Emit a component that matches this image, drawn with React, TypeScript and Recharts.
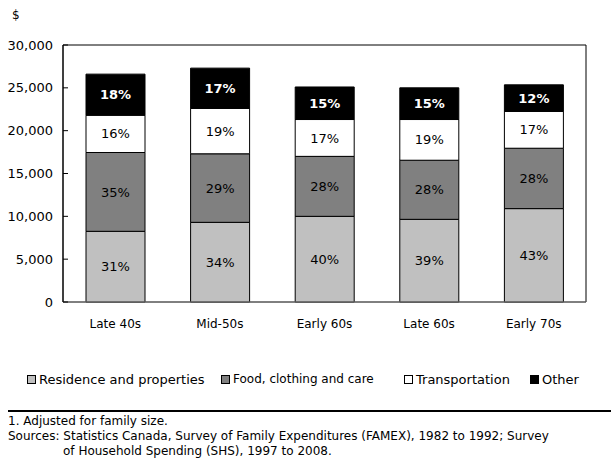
import { BarChart, Bar, XAxis, YAxis, LabelList, ReferenceArea } from 'recharts'

const periods = ['Late 40s', 'Mid-50s', 'Early 60s', 'Late 60s', 'Early 70s']
const residence = [8250, 9300, 10000, 9650, 10900]
const food = [9200, 8000, 7000, 6900, 7050]
const transportation = [4350, 5300, 4300, 4750, 4300]
const other = [4800, 4700, 3800, 3700, 3100]
const yTicks = [0, 5000, 10000, 15000, 20000, 25000, 30000]

const FONT = "'DejaVu Sans', sans-serif"

const series = [
  { key: 'residence', name: 'Residence and properties', fill: '#c0c0c0', text: '#000', values: residence, legendX: 27 },
  { key: 'food', name: 'Food, clothing and care', fill: '#808080', text: '#000', values: food, legendX: 221 },
  { key: 'transportation', name: 'Transportation', fill: '#ffffff', text: '#000', values: transportation, legendX: 404 },
  { key: 'other', name: 'Other', fill: '#000000', text: '#fff', values: other, legendX: 530 },
]

// one row per period, with each share of the total as a whole percent
const data = periods.map((period, i) => {
  const total = series.reduce((s, c) => s + c.values[i], 0)
  const row: Record<string, string | number> = { period }
  series.forEach((c) => {
    row[c.key] = c.values[i]
    row[`${c.key}Pct`] = Math.round((c.values[i] / total) * 100)
  })
  return row
})

export default function App() {
  return (
    <div
      style={{
        position: 'fixed',
        left: 0,
        top: 0,
        width: 611,
        height: 466,
        background: '#fff',
        fontFamily: FONT,
        color: '#000',
      }}
    >
      <div style={{ position: 'absolute', left: 12, top: 8, fontSize: 12, lineHeight: '15px' }}>$</div>
      <BarChart
        width={611}
        height={340}
        data={data}
        margin={{ top: 45, right: 25, bottom: 8, left: 8 }}
      >
        <ReferenceArea yAxisId={0} y1={0} y2={30000} stroke="#000" strokeWidth={1} fill="none" ifOverflow="visible" />
        <XAxis
          dataKey="period"
          axisLine={{ stroke: '#808080' }}
          tickLine={false}
          tickSize={0}
          tickMargin={17}
          tick={{ fontSize: 12, fill: '#000', fontFamily: FONT }}
        />
        <YAxis
          type="number"
          domain={[0, 30000]}
          ticks={yTicks}
          width={55}
          tickFormatter={(v: number) => v.toLocaleString('en-US')}
          axisLine={{ stroke: '#000' }}
          tickLine={{ stroke: '#000' }}
          tickSize={-5}
          tickMargin={15}
          tick={{ fontSize: 13, fill: '#000', fontFamily: FONT }}
        />
        {series.map((c) => (
          <Bar
            key={c.key}
            dataKey={c.key}
            stackId="spend"
            fill={c.fill}
            stroke="#000"
            strokeWidth={1}
            barSize={59}
            isAnimationActive={false}
          >
            <LabelList
              dataKey={`${c.key}Pct`}
              position="center"
              formatter={(v: number) => `${v}%`}
              fill={c.text}
              fontSize={13}
              fontFamily={FONT}
              fontWeight={c.key === 'other' ? 'bold' : 'normal'}
            />
          </Bar>
        ))}
      </BarChart>

      {series.map((c) => (
        <div
          key={c.key}
          style={{
            position: 'absolute',
            left: c.legendX,
            top: 371,
            height: 16,
            display: 'flex',
            alignItems: 'center',
            fontSize: c.key === 'food' ? 12 : 13,
            whiteSpace: 'nowrap',
          }}
        >
          <span
            style={{
              display: 'inline-block',
              width: 7,
              height: 7,
              background: c.fill,
              border: '1px solid #000',
              marginRight: 3,
            }}
          />
          {c.name}
        </div>
      ))}

      <div style={{ position: 'absolute', left: 8, top: 410, width: 603, height: 2, background: '#000' }} />
      <div style={{ position: 'absolute', left: 8, top: 414, fontSize: 12, lineHeight: '15px', whiteSpace: 'nowrap' }}>
        <div>1. Adjusted for family size.</div>
        <div>Sources: Statistics Canada, Survey of Family Expenditures (FAMEX), 1982 to 1992; Survey</div>
        <div style={{ paddingLeft: 55 }}>of Household Spending (SHS), 1997 to 2008.</div>
      </div>
    </div>
  )
}
